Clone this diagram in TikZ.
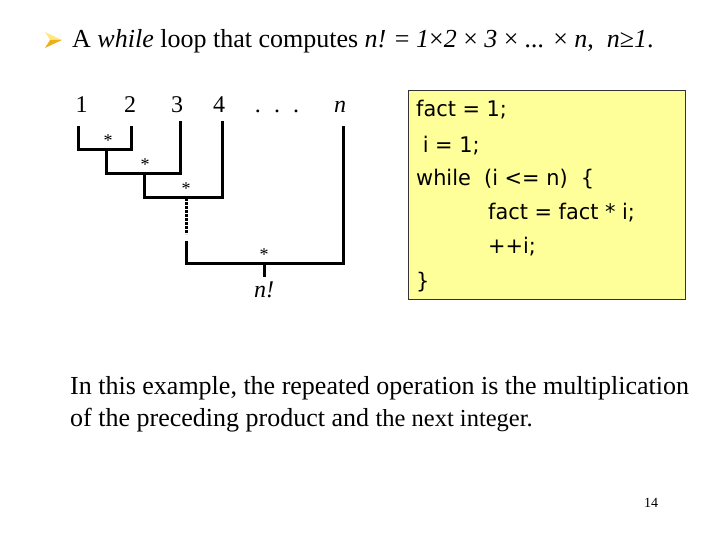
\documentclass[tikz,border=0pt]{standalone}
\usepackage{fontspec}
\setmainfont{Liberation Serif}
\newfontfamily\codefont[FakeStretch=0.97]{DejaVu Sans}
\definecolor{codebg}{RGB}{255,255,153}
\definecolor{arrowlight}{RGB}{255,232,130}
\definecolor{arrowdark}{RGB}{238,176,24}
\begin{document}
\begin{tikzpicture}[x=1pt,y=-1pt,
  tree/.style={line width=3pt, line join=miter},
  dotline/.style={line width=3pt, dash pattern=on 2.6pt off 1.4pt},
  lbl/.style={inner sep=0pt, anchor=base, font=\fontsize{24}{28}\selectfont},
  star/.style={inner sep=0pt, font=\fontsize{18}{20}\selectfont},
  code/.style={inner sep=0pt, anchor=base west, font=\codefont\fontsize{21.5}{24}\selectfont},
  body/.style={inner sep=0pt, anchor=base west, font=\fontsize{26}{30}\selectfont}]
\useasboundingbox (0,0) rectangle (720,540);
% bullet arrow
\fill[arrowlight] (45,32) -- (62,40) -- (50,40) -- cycle;
\fill[arrowdark] (50,40) -- (62,40) -- (45,48) -- cycle;
% title
\node[body, font=\fontsize{26}{30}\selectfont] (title) at (72,48)
  {A \textit{while} loop that computes \textit{n!} = \textit{1}×\textit{2} × \textit{3} × \textit{...} × \textit{n},~ \textit{n}≥\textit{1}.};
% tree labels
\node[lbl] (l1) at (81.7,113) {1};
\node[lbl] (l2) at (130,113) {2};
\node[lbl] (l3) at (177,113) {3};
\node[lbl] (l4) at (219,113) {4};
\node[lbl] (ldots) at (277,113) {.\hspace{0.55em}.\hspace{0.55em}.};
\node[lbl] (ln) at (340,113) {\textit{n}};
\node[lbl] (lf) at (264,297) {\textit{n!}};
% tree coordinates
\coordinate (t1) at (78.3,126);
\coordinate (t2) at (131.7,126);
\coordinate (t3) at (180,121);
\coordinate (t4) at (222.7,121);
\coordinate (tn) at (343,126);
\coordinate (j1) at (106,150);
\coordinate (j2) at (144,174);
\coordinate (j3) at (186,198);
\coordinate (d1) at (186,234);
\coordinate (d2) at (186,241);
\coordinate (j4) at (264,263);
\coordinate (out) at (264,277);
\draw[tree] (t1) |- (j1) -| (t2);
\draw[tree] (j1) |- (j2) -| (t3);
\draw[tree] (j2) |- (j3) -| (t4);
\draw[dotline] (j3) -- (d1);
\draw[tree] (d2) |- (j4) -| (tn);
\draw[tree] (j4) -- (out);
\node[star] (s1) at (108,141) {*};
\node[star] (s2) at (145,165) {*};
\node[star] (s3) at (186,189) {*};
\node[star] (s4) at (264,255) {*};
% code box
\node[draw=black!80, line width=0.8pt, fill=codebg, minimum width=277pt, minimum height=209pt, anchor=north west, inner sep=0pt] (box) at (408,90) {};
\node[code] (c1) at (416,117) {fact = 1;};
\node[code] (c2) at (416,153) {~i = 1;};
\node[code] (c3) at (416,186) {while~~(i <= n)~~\{};
\node[code] (c4) at (488,220) {fact = fact * i;};
\node[code] (c5) at (488,253) {++i;};
\node[code] (c6) at (416,288) {\}};
% paragraph
\node[body] (p1) at (70,394) {In this example, the repeated operation is the multiplication};
\node[body] (p2) at (70,426) {of the preceding product and {\fontsize{24.5}{28}\selectfont the next integer.}};
% page number
\node[inner sep=0pt, font=\fontsize{14}{16}\selectfont] (pg) at (651,503) {14};
\end{tikzpicture}
\end{document}
